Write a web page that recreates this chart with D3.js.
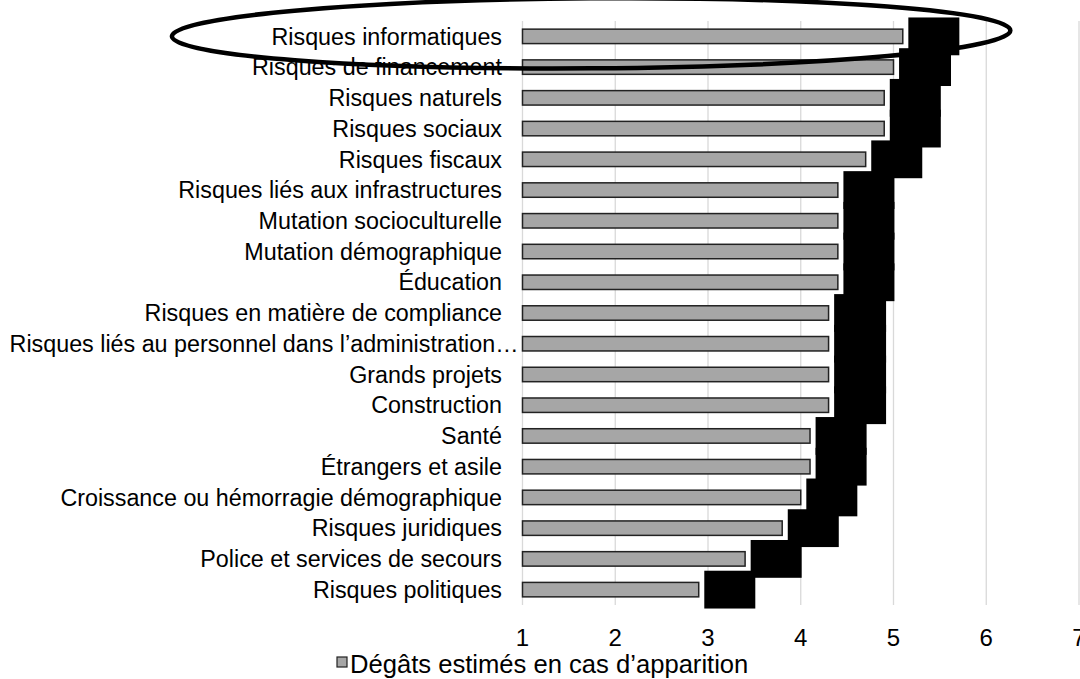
<!DOCTYPE html>
<html>
<head>
<meta charset="utf-8">
<script src="https://cdn.jsdelivr.net/npm/d3@7"></script>
<style>
  html, body { margin: 0; padding: 0; background: #ffffff; }
  svg { display: block; font-family: "Liberation Sans", Arial, sans-serif; }
</style>
</head>
<body>
<svg id="chart" width="1080" height="679"></svg>
<script>
const categories = [
  "Risques informatiques",
  "Risques de financement",
  "Risques naturels",
  "Risques sociaux",
  "Risques fiscaux",
  "Risques liés aux infrastructures",
  "Mutation socioculturelle",
  "Mutation démographique",
  "Éducation",
  "Risques en matière de compliance",
  "Risques liés au personnel dans l’administration…",
  "Grands projets",
  "Construction",
  "Santé ",
  "Étrangers et asile",
  "Croissance ou hémorragie démographique",
  "Risques juridiques",
  "Police et services de secours ",
  "Risques politiques"
];
const degats = [5.1, 5.0, 4.9, 4.9, 4.7, 4.4, 4.4, 4.4, 4.4, 4.3, 4.3, 4.3, 4.3, 4.1, 4.1, 4.0, 3.8, 3.4, 2.9];
const blocDebut = [5.16, 5.06, 4.96, 4.96, 4.76, 4.46, 4.46, 4.46, 4.46, 4.36, 4.36, 4.36, 4.36, 4.16, 4.16, 4.06, 3.86, 3.46, 2.96];
const blocFin = [5.71, 5.62, 5.51, 5.51, 5.31, 5.01, 5.01, 5.01, 5.01, 4.92, 4.92, 4.92, 4.92, 4.71, 4.71, 4.61, 4.41, 4.01, 3.51];
const xTicks = [1, 2, 3, 4, 5, 6, 7];
const legendLabel = "Dégâts estimés en cas d’apparition";
// annotation ellipse around the first category (value-space extents)
const annotationFrom = -2.78, annotationTo = 6.26;

const W = 1080, H = 679;
const margin = { top: 21, right: 1, bottom: 74, left: 522.5 };
const svg = d3.select("#chart");

const x = d3.scaleLinear().domain([1, 7]).range([margin.left, W - margin.right]);
const y = d3.scaleBand().domain(categories).range([margin.top, H - margin.bottom]).paddingInner(0).paddingOuter(0);
const step = y.step();
const barH = step * 0.47;
const blocH = step * 1.23;

// gridlines
svg.append("g").selectAll("line").data(xTicks).join("line")
  .attr("x1", d => x(d)).attr("x2", d => x(d))
  .attr("y1", margin.top).attr("y2", H - margin.bottom)
  .attr("stroke", "#d9d9d9").attr("stroke-width", 1.3);

// black blocks
svg.append("g").selectAll("rect").data(categories).join("rect")
  .attr("x", (d, i) => x(blocDebut[i]))
  .attr("width", (d, i) => x(blocFin[i]) - x(blocDebut[i]))
  .attr("y", d => y(d) + step / 2 - blocH / 2)
  .attr("height", blocH)
  .attr("fill", "#000000");

// gray bars
svg.append("g").selectAll("rect").data(categories).join("rect")
  .attr("x", x(1))
  .attr("width", (d, i) => x(degats[i]) - x(1))
  .attr("y", d => y(d) + step / 2 - barH / 2)
  .attr("height", barH)
  .attr("fill", "#a6a6a6")
  .attr("stroke", "#222222")
  .attr("stroke-width", 1.5);

// category labels
svg.append("g").selectAll("text").data(categories).join("text")
  .attr("x", (d, i) => i === 10 ? x(1) - 4 : x(1) - 20.5)
  .attr("y", d => y(d) + step / 2 + 8.2)
  .attr("text-anchor", "end")
  .attr("font-size", 23.3)
  .attr("fill", "#000")
  .text(d => d);

// tick labels
svg.append("g").selectAll("text").data(xTicks).join("text")
  .attr("x", d => x(d))
  .attr("y", H - margin.bottom + 41)
  .attr("text-anchor", "middle")
  .attr("font-size", 24)
  .attr("fill", "#000")
  .text(d => d);

// legend
const lg = svg.append("g");
lg.append("rect").attr("x", 337).attr("y", 657).attr("width", 10).attr("height", 10)
  .attr("fill", "#a6a6a6").attr("stroke", "#222").attr("stroke-width", 1.2);
lg.append("text").attr("x", 350).attr("y", 673).attr("font-size", 25.6).attr("fill", "#000").text(legendLabel);

// annotation ellipse
const ex1 = x(annotationFrom), ex2 = x(annotationTo);
svg.append("ellipse")
  .attr("cx", (ex1 + ex2) / 2)
  .attr("cy", y(categories[0]) + step / 2 - 3)
  .attr("rx", (ex2 - ex1) / 2)
  .attr("ry", 35)
  .attr("fill", "none")
  .attr("stroke", "#000")
  .attr("stroke-width", 4.5)
  .attr("transform", `rotate(-0.4, ${(ex1 + ex2) / 2}, ${y(categories[0]) + step / 2 - 3})`);
</script>
</body>
</html>
